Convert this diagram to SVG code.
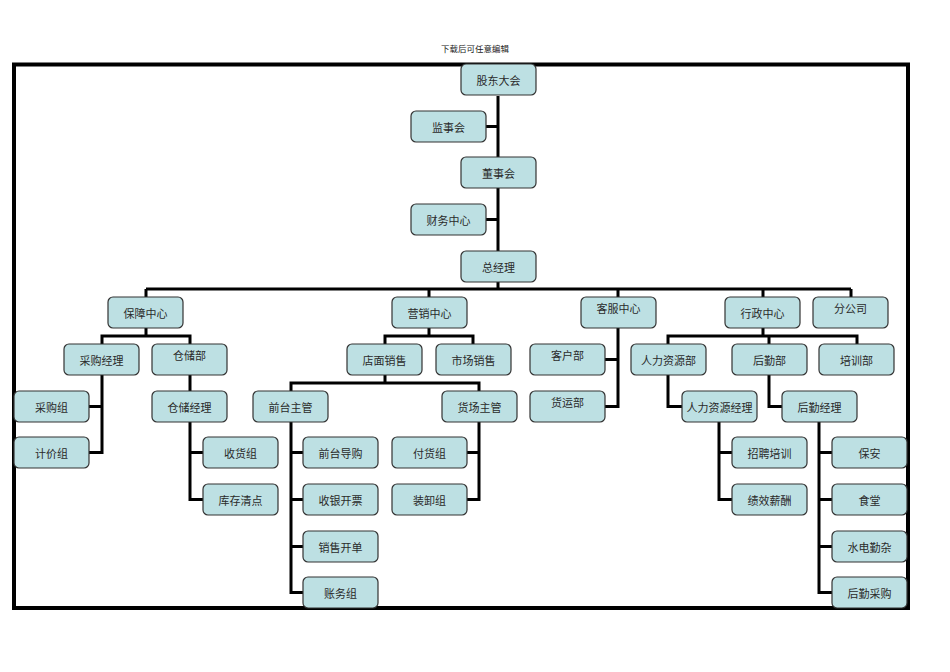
<svg xmlns="http://www.w3.org/2000/svg" width="950" height="672" viewBox="0 0 950 672">
<style>
.b{fill:#bde0e3;stroke:#333;stroke-width:1.2}
.t{font-family:"Noto Sans CJK SC","Noto Sans",sans-serif;font-size:11px;fill:#2a2a2a;text-anchor:middle;dominant-baseline:central}
.c{fill:none;stroke:#000;stroke-width:3}
.f{fill:none;stroke:#000;stroke-width:4}
</style>
<rect fill="#fff" x="0" y="0" width="950" height="672"/>
<text x="475" y="52" style="font-family:'Noto Sans CJK SC',sans-serif;font-size:8.5px;fill:#222;text-anchor:middle">下载后可任意编辑</text>
<rect class="f" x="14" y="64.5" width="894" height="543.5"/>
<g id="connectors">
<path class="c" d="M498,96 V289 M486,126.5 H498 M486,219.5 H498"/>
<path class="c" d="M146,289 H851 M146,289 V297 M429,289 V297 M618,289 V297 M763,289 V297 M851,289 V297"/>
<path class="c" d="M146,328 V336 M102,344 V336 H190 V344"/>
<path class="c" d="M102,375 V452.5 H89 M89,406.5 H102"/>
<path class="c" d="M190,375 V391"/>
<path class="c" d="M190,422 V499.5 H203 M190,452.5 H203"/>
<path class="c" d="M429,328 V336 M385,344 V336 H473 V344"/>
<path class="c" d="M385,375 V383 M291,391 V383 H479 V391"/>
<path class="c" d="M291,422 V592.5 H303 M291,452.5 H303 M291,499.5 H303 M291,546.5 H303"/>
<path class="c" d="M479,422 V499.5 H467 M467,452.5 H479"/>
<path class="c" d="M618,328 V406.5 H605 M605,359.5 H618"/>
<path class="c" d="M763,328 V336 M668,344 V336 H857 V344 M769,336 V344"/>
<path class="c" d="M668,375 V406.5 H682"/>
<path class="c" d="M769,375 V406.5 H782"/>
<path class="c" d="M719,422 V499.5 H732 M719,452.5 H732"/>
<path class="c" d="M819,422 V592.5 H832 M819,452.5 H832 M819,499.5 H832 M819,546.5 H832"/>
</g>
<g id="gudong"><rect class="b" x="461" y="64" width="75" height="31" rx="5"/><text class="t" x="498.5" y="79.5">股东大会</text></g>
<g id="jianshi"><rect class="b" x="411" y="111" width="75" height="31" rx="5"/><text class="t" x="448.5" y="126.5">监事会</text></g>
<g id="dongshi"><rect class="b" x="461" y="157" width="75" height="31" rx="5"/><text class="t" x="498.5" y="172.5">董事会</text></g>
<g id="caiwu"><rect class="b" x="411" y="204" width="75" height="31" rx="5"/><text class="t" x="448.5" y="219.5">财务中心</text></g>
<g id="zongjingli"><rect class="b" x="461" y="251" width="75" height="31" rx="5"/><text class="t" x="498.5" y="266.5">总经理</text></g>
<g id="baozhang"><rect class="b" x="108" y="297" width="75" height="31" rx="5"/><text class="t" x="145.5" y="312.5">保障中心</text></g>
<g id="yingxiao"><rect class="b" x="392" y="297" width="75" height="31" rx="5"/><text class="t" x="429.5" y="312.5">营销中心</text></g>
<g id="kefu"><rect class="b" x="581" y="297" width="75" height="31" rx="5"/><text class="t" x="618.5" y="307.5">客服中心</text></g>
<g id="xingzheng"><rect class="b" x="725" y="297" width="75" height="31" rx="5"/><text class="t" x="762.5" y="312.5">行政中心</text></g>
<g id="fengongsi"><rect class="b" x="813" y="297" width="75" height="31" rx="5"/><text class="t" x="850.5" y="307.5">分公司</text></g>
<g id="caigoujingli"><rect class="b" x="64" y="344" width="75" height="31" rx="5"/><text class="t" x="101.5" y="359.5">采购经理</text></g>
<g id="cangchubu"><rect class="b" x="152" y="344" width="75" height="31" rx="5"/><text class="t" x="189.5" y="354.5">仓储部</text></g>
<g id="dianmian"><rect class="b" x="347" y="344" width="75" height="31" rx="5"/><text class="t" x="384.5" y="359.5">店面销售</text></g>
<g id="shichang"><rect class="b" x="436" y="344" width="75" height="31" rx="5"/><text class="t" x="473.5" y="359.5">市场销售</text></g>
<g id="kehu"><rect class="b" x="530" y="344" width="75" height="31" rx="5"/><text class="t" x="567.5" y="354.5">客户部</text></g>
<g id="huoyun"><rect class="b" x="530" y="391" width="75" height="31" rx="5"/><text class="t" x="567.5" y="401.5">货运部</text></g>
<g id="renliziyuan"><rect class="b" x="631" y="344" width="75" height="31" rx="5"/><text class="t" x="668.5" y="359.5">人力资源部</text></g>
<g id="houqin"><rect class="b" x="732" y="344" width="75" height="31" rx="5"/><text class="t" x="769.5" y="359.5">后勤部</text></g>
<g id="peixun"><rect class="b" x="819" y="344" width="75" height="31" rx="5"/><text class="t" x="856.5" y="359.5">培训部</text></g>
<g id="caigouzu"><rect class="b" x="14" y="391" width="75" height="31" rx="5"/><text class="t" x="51.5" y="406.5">采购组</text></g>
<g id="jijiazu"><rect class="b" x="14" y="437" width="75" height="31" rx="5"/><text class="t" x="51.5" y="452.5">计价组</text></g>
<g id="cangchujingli"><rect class="b" x="152" y="391" width="75" height="31" rx="5"/><text class="t" x="189.5" y="406.5">仓储经理</text></g>
<g id="shouhuo"><rect class="b" x="203" y="437" width="75" height="31" rx="5"/><text class="t" x="240.5" y="452.5">收货组</text></g>
<g id="kucun"><rect class="b" x="203" y="484" width="75" height="31" rx="5"/><text class="t" x="240.5" y="499.5">库存清点</text></g>
<g id="qiantai"><rect class="b" x="253" y="391" width="75" height="31" rx="5"/><text class="t" x="290.5" y="406.5">前台主管</text></g>
<g id="huochang"><rect class="b" x="442" y="391" width="75" height="31" rx="5"/><text class="t" x="479.5" y="406.5">货场主管</text></g>
<g id="daogou"><rect class="b" x="303" y="437" width="75" height="31" rx="5"/><text class="t" x="340.5" y="452.5">前台导购</text></g>
<g id="shouyin"><rect class="b" x="303" y="484" width="75" height="31" rx="5"/><text class="t" x="340.5" y="499.5">收银开票</text></g>
<g id="kaidan"><rect class="b" x="303" y="531" width="75" height="31" rx="5"/><text class="t" x="340.5" y="546.5">销售开单</text></g>
<g id="zhangwu"><rect class="b" x="303" y="577" width="75" height="31" rx="5"/><text class="t" x="340.5" y="592.5">账务组</text></g>
<g id="fuhuo"><rect class="b" x="392" y="437" width="75" height="31" rx="5"/><text class="t" x="429.5" y="452.5">付货组</text></g>
<g id="zhuangxie"><rect class="b" x="392" y="484" width="75" height="31" rx="5"/><text class="t" x="429.5" y="499.5">装卸组</text></g>
<g id="rljl"><rect class="b" x="682" y="391" width="75" height="31" rx="5"/><text class="t" x="719.5" y="406.5">人力资源经理</text></g>
<g id="hqjl"><rect class="b" x="782" y="391" width="75" height="31" rx="5"/><text class="t" x="819.5" y="406.5">后勤经理</text></g>
<g id="zhaopin"><rect class="b" x="732" y="437" width="75" height="31" rx="5"/><text class="t" x="769.5" y="452.5">招聘培训</text></g>
<g id="jixiao"><rect class="b" x="732" y="484" width="75" height="31" rx="5"/><text class="t" x="769.5" y="499.5">绩效薪酬</text></g>
<g id="baoan"><rect class="b" x="832" y="437" width="75" height="31" rx="5"/><text class="t" x="869.5" y="452.5">保安</text></g>
<g id="shitang"><rect class="b" x="832" y="484" width="75" height="31" rx="5"/><text class="t" x="869.5" y="499.5">食堂</text></g>
<g id="shuidian"><rect class="b" x="832" y="531" width="75" height="31" rx="5"/><text class="t" x="869.5" y="546.5">水电勤杂</text></g>
<g id="hqcaigou"><rect class="b" x="832" y="577" width="75" height="31" rx="5"/><text class="t" x="869.5" y="592.5">后勤采购</text></g>
</svg>
